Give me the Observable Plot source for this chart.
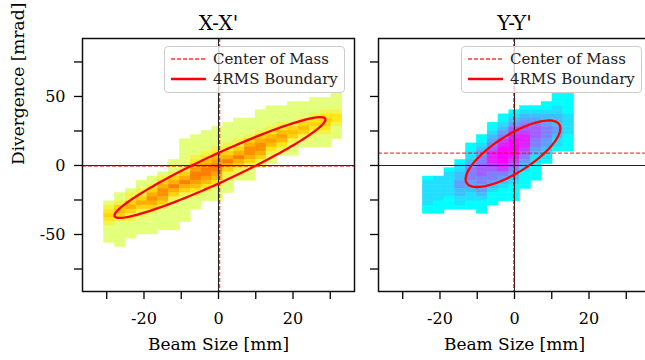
<!DOCTYPE html>
<html><head><meta charset="utf-8">
<script src="https://cdn.jsdelivr.net/npm/d3@7"></script>
<script src="https://cdn.jsdelivr.net/npm/@observablehq/plot@0.6"></script>
<style>
html,body{margin:0;padding:0;background:#fff;}
body{width:645px;height:360px;overflow:hidden;position:relative;font-family:"DejaVu Serif",serif;}
.panel{position:absolute;top:0;height:360px;}
.panel svg{max-width:none !important;display:block;}
.panel svg text{font-family:"DejaVu Serif",serif;}
.legend{position:absolute;border:1px solid #cccccc;border-radius:4px;background:rgba(255,255,255,0.8);box-sizing:border-box;}
.legend .item{position:absolute;left:0;height:20px;width:100%;}
.legend svg{position:absolute;left:5px;top:0;}
.legend span{position:absolute;left:48px;top:0;line-height:20px;font-size:15px;color:#222;white-space:nowrap;}
</style></head><body>
<div id="left" class="panel" style="left:0px;width:360px"></div>
<div id="right" class="panel" style="left:368px;width:288px"></div>
<script>
// ---------- data ----------
const titles = ["X-X'", "Y-Y'"];
const xLabel = "Beam Size [mm]";
const yLabel = "Divergence [mrad]";
const legendLabels = ["Center of Mass", "4RMS Boundary"];
const xTicks = [-30, -20, -10, 0, 10, 20, 30];
const xTickLabels = [-20, 0, 20];
const yTicks = [-75, -50, -25, 0, 25, 50, 75];
const yTickLabels = [-50, 0, 50];

// histogram bin edges (mm, mrad)
const xEdgesX = [-30.7, -27.8, -24.89, -21.99, -19.08, -16.18, -13.27, -10.37, -7.46, -4.56, -1.65, 1.26, 4.16, 7.07, 9.97, 12.88, 15.78, 18.69, 21.59, 24.5, 27.4, 30.31, 33.21];
const xEdgesY = [-24.6, -21.7, -18.8, -15.9, -13.0, -10.1, -7.2, -4.3, -1.4, 1.5, 4.4, 7.3, 10.2, 13.1, 16.0];
const yEdges = [58, 55, 52, 49, 46, 43, 40, 37, 34, 31, 28, 25, 22, 19, 16, 13, 10, 7, 4, 1, -2, -5, -8, -11, -14, -17, -20, -23, -26, -29, -32, -35, -38, -41, -44, -47, -50, -53, -56, -59, -62];

// per x-bin: [first occupied y-bin (from top), count levels 1..9 going down]
const countsX = [
  [28, "1234321111"],
  [26, "1124542111111"],
  [25, "122464221111"],
  [23, "1122464221111"],
  [22, "11246864211111"],
  [21, "12468864211111"],
  [18, "11124696421111111"],
  [13, "11111112469642111111"],
  [12, "111112357997532111"],
  [11, "11111235799753211"],
  [10, "111112357997532111"],
  [9, "11111224696422111"],
  [8, "111112246964221"],
  [8, "111124688642111"],
  [6, "11111246886421"],
  [5, "11111235753211"],
  [5, "111123575321"],
  [4, "1111124542111"],
  [4, "11112454211"],
  [3, "111123432111"],
  [3, "111234432111"],
  [2, "11112332111"]
];
const countsY = [
  [22, "122222211"],
  [22, "222222111"],
  [20, "1222222111"],
  [18, "122334433221"],
  [14, "1122345554432211"],
  [12, "1123455666554432111"],
  [9, "11234568887655432111"],
  [7, "112345789999875432111"],
  [6, "1234678999987654321111"],
  [5, "12345678887654321111"],
  [5, "123456665543221111"],
  [4, "112334555443221"],
  [2, "11122333443221"],
  [2, "11111222221111"]
];

// centre of mass [x, y]
const comX = [0.3, -0.4];
const comY = [-0.2, 8.9];
// 4RMS ellipse: [cx, cy, x amplitude, y amplitude, phase]
const ellipseX = [0.4, -1.5, 28.3, 36.5, 0.309];
const ellipseY = [-0.4, 8.5, 12.7, 24.1, 0.707];

const wistia = ["#e4ff7a", "#ffe81a", "#ffbd00", "#ffa000", "#fc7f00"];
const cool = ["#00ffff", "#ff00ff"];

// ---------- build ----------
function cells(cols, xEdges) {
  const out = [];
  cols.forEach(([start, s], k) => {
    for (let i = 0; i < s.length; i++) {
      const r = start + i;
      out.push({x1: xEdges[k], x2: xEdges[k + 1], y1: yEdges[r + 1], y2: yEdges[r], v: +s[i]});
    }
  });
  return out;
}
function ellipsePts(e) {
  const [cx, cy, ax, ay, ph] = e;
  return d3.range(0, 361, 2).map(a => {
    const t = a * Math.PI / 180;
    return {x: cx + ax * Math.cos(t), y: cy + ay * Math.cos(t + ph)};
  });
}

function panel({data, colorDomain, colorRange, com, ell, title, showY, marginLeft, width}) {
  return Plot.plot({
    width, height: 360,
    marginTop: 38, marginBottom: 69, marginLeft, marginRight: 6,
    style: {fontFamily: "'DejaVu Serif', serif", fontSize: "16px", color: "#000", background: "transparent", overflow: "visible"},
    x: {domain: [-36.5, 36.5]},
    y: {domain: [-91.3, 92]},
    color: {type: "linear", domain: colorDomain, range: colorRange},
    marks: [
      Plot.rect(data, {x1: "x1", x2: "x2", y1: "y1", y2: "y2", fill: "v", stroke: "v", strokeWidth: 0.5}),
      Plot.ruleX([0], {stroke: "#222", strokeWidth: 1.1}),
      Plot.ruleY([0], {stroke: "#222", strokeWidth: 1.1}),
      Plot.ruleX([com[0]], {stroke: "red", strokeOpacity: 0.75, strokeWidth: 1.3, strokeDasharray: "4,2"}),
      Plot.ruleY([com[1]], {stroke: "red", strokeOpacity: 0.75, strokeWidth: 1.3, strokeDasharray: "4,2"}),
      Plot.line(ellipsePts(ell), {x: "x", y: "y", stroke: "red", strokeWidth: 2.3}),
      Plot.axisX({ticks: xTicks, tickFormat: d => xTickLabels.includes(d) ? String(d) : "", tickSize: 8, tickPadding: 13, strokeWidth: 1.3, label: null}),
      Plot.axisY({ticks: yTicks, tickFormat: d => showY && yTickLabels.includes(d) ? String(d) : "", tickSize: 8, tickPadding: 9, strokeWidth: 1.3, label: null}),
      Plot.frame({stroke: "#111", strokeWidth: 1.5}),
      Plot.text([title], {text: d => d, frameAnchor: "top", dy: -23, fontSize: 20}),
      Plot.text([xLabel], {text: d => d, frameAnchor: "bottom", dy: 58, fontSize: 17}),
      ...(showY ? [Plot.text([yLabel], {text: d => d, frameAnchor: "left", dx: -64, rotate: -90, fontSize: 17})] : [])
    ]
  });
}

document.getElementById("left").append(panel({
  data: cells(countsX, xEdgesX), colorDomain: [1, 3, 5, 7, 9], colorRange: wistia,
  com: comX, ell: ellipseX, title: titles[0], showY: true, marginLeft: 82, width: 360
}));
document.getElementById("right").append(panel({
  data: cells(countsY, xEdgesY), colorDomain: [1, 9], colorRange: cool,
  com: comY, ell: ellipseY, title: titles[1], showY: false, marginLeft: 10, width: 288
}));

function legend(left) {
  const box = document.createElement("div");
  box.className = "legend";
  Object.assign(box.style, {left: left + "px", top: "46px", width: "181px", height: "47px"});
  legendLabels.forEach((lab, i) => {
    const item = document.createElement("div");
    item.className = "item";
    item.style.top = (2 + i * 20) + "px";
    const dash = i === 0 ? 'stroke-dasharray="4,2" stroke-width="1.4" stroke-opacity="0.8"' : 'stroke-width="2.4"';
    item.innerHTML = `<svg width="40" height="20"><line x1="1" x2="36" y1="10" y2="10" stroke="red" ${dash}/></svg><span>${lab}</span>`;
    box.append(item);
  });
  document.body.append(box);
}
legend(164);
legend(461);
</script>
</body></html>
